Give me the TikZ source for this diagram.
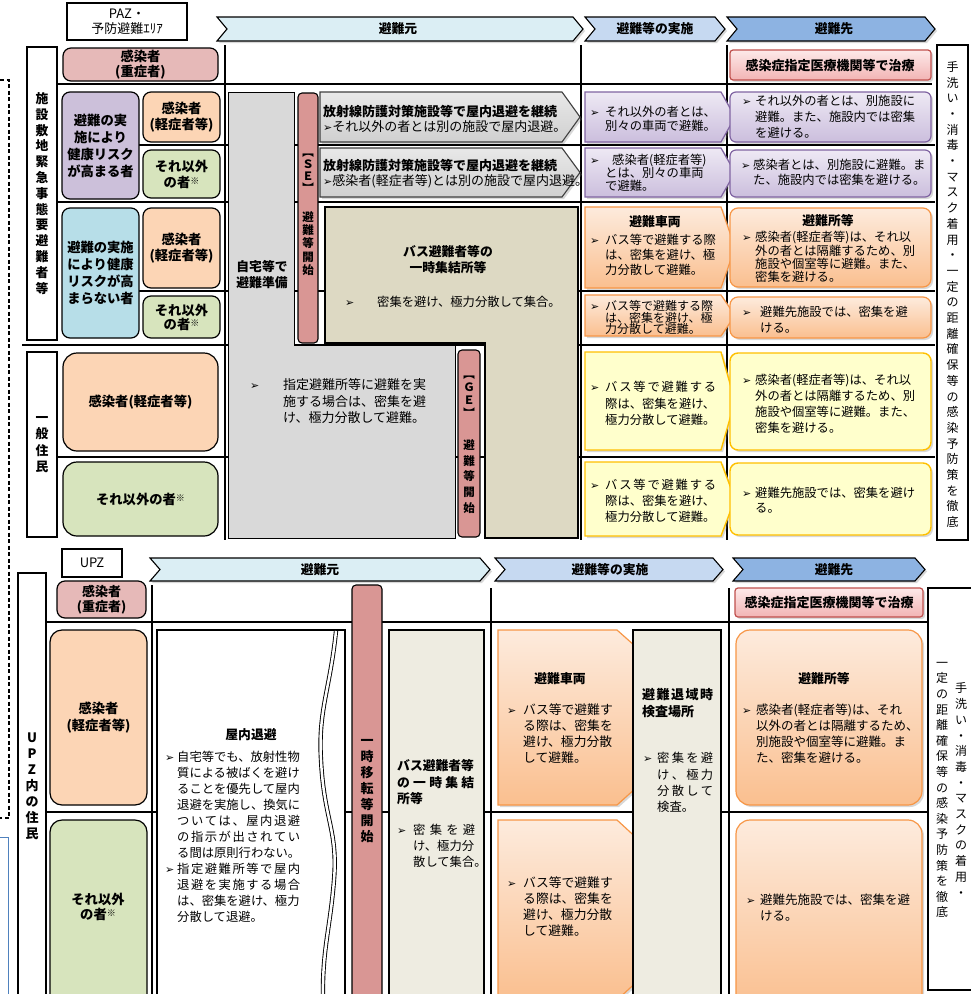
\documentclass[tikz,border=0pt]{standalone}
\usepackage{fontspec}
\setmainfont{Noto Sans CJK JP}
\newfontfamily\dejavu{DejaVu Sans}
\usetikzlibrary{shadows}

\definecolor{pinkc}{HTML}{E6B9B8}
\definecolor{orangec}{HTML}{FCD5B5}
\definecolor{greenc}{HTML}{D7E4BD}
\definecolor{purplec}{HTML}{CCC0DA}
\definecolor{bluec}{HTML}{B7DEE8}
\definecolor{grayc}{HTML}{D9D9D9}
\definecolor{beigeA}{HTML}{DDD9C3}
\definecolor{beigeB}{HTML}{EEECE1}
\definecolor{rosec}{HTML}{D99694}
\definecolor{hdrA}{HTML}{DBEEF4}
\definecolor{hdrB}{HTML}{C6D9F1}
\definecolor{hdrC}{HTML}{8DB3E2}
\definecolor{purT}{HTML}{EEE9F4}
\definecolor{purB}{HTML}{CBBEDD}
\definecolor{purD}{HTML}{8064A2}
\definecolor{orgT}{HTML}{FDEBDD}
\definecolor{orgB}{HTML}{FABF8F}
\definecolor{orgD}{HTML}{F79646}
\definecolor{yelF}{HTML}{FFFFCC}
\definecolor{yelD}{HTML}{FFC000}
\definecolor{redT}{HTML}{FDE9E9}
\definecolor{redB}{HTML}{F2B4B4}
\definecolor{redD}{HTML}{C0504D}
\definecolor{gryT}{HTML}{E8E8E8}
\definecolor{gryB}{HTML}{D0D0D0}
\definecolor{gryD}{HTML}{404040}
\definecolor{blueln}{HTML}{4F81BD}

\newcommand\fsz[2]{\fontsize{#1}{#2}\selectfont}
\protected\def\myb{\raisebox{0.3pt}{\dejavu\fontsize{11}{11}\selectfont ➢}}
\protected\def\kome{\raisebox{3pt}{\fontsize{9}{9}\selectfont ※}}
\newcommand\bl[1]{\vtop{\let\\\cr\lineskiplimit=-50pt\halign{##\hfil\cr#1\crcr}}}
\newcommand\bu[2]{\makebox[#1][l]{\myb}\bl{#2}}
\newcommand\vt[2]{\vbox{\baselineskip=#1\lineskiplimit=-50pt\relax\vtA#2\relax}}
\def\vtA#1{\ifx#1\relax\else\hbox to 14pt{\hss#1\hss}\expandafter\vtA\fi}
\protected\def\spr#1#2{\hbox to #1{\sprA#2\relax\unskip}}
\def\sprA#1{\ifx#1\relax\else#1\hfill\expandafter\sprA\fi}
\newcommand\cn[7]{\node[#1,minimum width={#4-#2},minimum height={#5-#3}] (#6) at ({(#2+#4)/2},{(#3+#5)/2}) {#7};}
\newcommand\chev[6][]{\draw[#1] (#2,#3) -- ({#4-#6},#3) -- (#4,{(#3+#5)/2}) -- ({#4-#6},#5) -- (#2,#5) -- ({#2+#6},{(#3+#5)/2}) -- cycle;}
\newcommand\pent[6][]{\draw[#1] (#2,#3) -- ({#4-#6},#3) -- (#4,{(#3+#5)/2}) -- ({#4-#6},#5) -- (#2,#5) -- cycle;}

\tikzset{
 grid/.style={line width=1.4pt, draw=black},
 cell/.style={draw=black, line width=1.2pt, rounded corners=8pt, inner sep=0pt, align=center, font=\fsz{13.3}{17}\bfseries},
 lab/.style={draw=black, line width=1.1pt, fill=white, inner sep=0pt},
 shd/.style={drop shadow={opacity=0.3,shadow xshift=2pt,shadow yshift=-2pt}},
 hdr/.style={draw=black, line width=1.1pt, shd},
 htxt/.style={inner sep=0pt, font=\fsz{12.8}{15}\bfseries},
 tx/.style={inner sep=0pt, anchor=base west},
 bt/.style={inner sep=0pt, align=center, font=\fsz{12.8}{16}\bfseries},
 vtx/.style={inner sep=0pt},
 purA/.style={top color=purT, bottom color=purB, draw=purD, line width=1.2pt, shd},
 orgA/.style={top color=orgT, bottom color=orgB, draw=orgD, line width=1.2pt, shd},
 yelA/.style={fill=yelF, draw=yelD, line width=1.4pt, shd},
 redA/.style={top color=redT, bottom color=redB, draw=redD, line width=1.2pt, shd, rounded corners=3pt},
 gryA/.style={top color=gryT, bottom color=gryB, draw=gryD, line width=1.1pt, shd},
 bar/.style={fill=rosec, draw=black, line width=1.1pt, rounded corners=4pt},
}

\begin{document}
\begin{tikzpicture}[x=1pt,y=-1pt]
\useasboundingbox (0,0) rectangle (971,994);
\fill[white] (0,0) rectangle (971,994);

% outer frames on the left
\draw[line width=1.1pt, dash pattern=on 4pt off 2.5pt] (0,80) -- (9,80) -- (9,818) -- (0,818);
\draw[blueln, line width=1pt] (0,837) -- (8,837) -- (8,1000);

% ================= PAZ =================
\node[lab, minimum width=120, minimum height=37, align=center, font=\fsz{13}{15}] (paz) at (127,21.5) {PAZ・\\予防避難ｴﾘｱ};

\chev[hdr, fill=hdrA]{217}{17}{583}{41}{10}
\chev[hdr, fill=hdrB]{585}{17}{725}{41}{10}
\chev[hdr, fill=hdrC]{727}{17}{935}{41}{10}
\node[htxt] (h1) at (398,29) {避難元};
\node[htxt] (h2) at (655,29) {避難等の実施};
\node[htxt] (h3) at (834,29) {避難先};

% grid
\draw[grid] (225,45) -- (225,540);
\draw[grid] (581,45) -- (581,540);
\draw[grid] (727,45) -- (727,540);
\draw[grid] (57,84) -- (932,84);
\draw[grid] (139,145) -- (935,145);
\draw[grid] (57,202) -- (935,202);
\draw[grid] (139,291) -- (935,291);
\draw[grid] (22,345) -- (935,345);
\draw[grid] (57,457) -- (935,457);

% left labels
\cn{lab, font=\fsz{12.8}{16}\bfseries}{27}{47}{57}{340}{labA}{\vt{15.8pt}{施設敷地緊急事態要避難者等}}
\cn{lab, font=\fsz{12.8}{16}\bfseries}{27}{352}{57}{537}{labB}{\vt{16.3pt}{一般住民}}

% left cells
\cn{cell, fill=pinkc, font=\fsz{13.3}{15}\bfseries}{63}{48}{218}{81}{c0}{感染者\\(重症者)}
\cn{cell, fill=purplec}{62}{92}{139}{199}{c1}{避難の実\\施により\\健康リスク\\が高まる者}
\cn{cell, fill=orangec, font=\fsz{13.3}{16}\bfseries}{143}{92}{220}{142}{c2}{感染者\\(軽症者等)}
\cn{cell, fill=greenc, font=\fsz{13.3}{16}\bfseries}{143}{150}{220}{198}{c3}{それ以外\\の者\kome}
\cn{cell, fill=bluec}{62}{208}{139}{338}{c4}{避難の実施\\により健康\\リスクが高\\まらない者}
\cn{cell, fill=orangec, font=\fsz{13.3}{16}\bfseries}{143}{208}{220}{288}{c5}{感染者\\(軽症者等)}
\cn{cell, fill=greenc, font=\fsz{13.3}{14}\bfseries}{143}{296}{220}{338}{c6}{それ以外\\の者\kome}
\cn{cell, fill=orangec, rounded corners=14pt}{63}{353}{218}{451}{c7}{感染者(軽症者等)}
\cn{cell, fill=greenc, rounded corners=14pt}{63}{462}{218}{536}{c8}{それ以外の者\kome}

% gray L area
\draw[fill=grayc, draw=black, line width=0.9pt] (228,92) -- (294,92) -- (294,345) -- (455,345) -- (455,538) -- (228,538) -- cycle;
\node[bt] (jitaku) at (262,275) {自宅等で\\避難準備};
\node[tx, font=\fsz{13}{16.5}] (shitei) at (250,389.7) {\bu{33pt}{指定避難所等に避難を実\\施する場合は、密集を避\\け、極力分散して避難。}};

% beige L area
\draw[fill=beigeA, draw=black, line width=1.3pt] (325,207) -- (578,207) -- (578,538) -- (485,538) -- (485,343) -- (325,343) -- cycle;
\node[bt] (bus1) at (448,260) {バス避難者等の\\一時集結所等};
\node[tx, font=\fsz{12.3}{16}] (bus1b) at (345,306.7) {\bu{32pt}{密集を避け、極力分散して集合。}};

% SE / GE bars
\cn{bar}{298}{93}{318}{343}{se}{}
\node[vtx, font=\fsz{11.5}{12}\bfseries] (set) at (308,173) {\vt{12pt}{︻ＳＥ︼}};
\node[vtx, font=\fsz{11.5}{12}\bfseries] (sea) at (308,243.5) {\vt{13.3pt}{避難等開始}};
\cn{bar}{458}{350}{480}{537}{ge}{}
\node[vtx, font=\fsz{11.5}{12}\bfseries] (get) at (469,397) {\vt{13pt}{︻ＧＥ︼}};
\node[vtx, font=\fsz{11.5}{12}\bfseries] (gea) at (469,476.5) {\vt{15.7pt}{避難等開始}};

% gray arrows
\pent[gryA]{320}{92}{580}{142}{18}
\node[tx, font=\fsz{13}{15}\bfseries] (g1a) at (323,116.7) {放射線防護対策施設等で屋内退避を継続};
\node[tx, font=\fsz{13}{15}] (g1b) at (323,131.7) {\myb それ以外の者とは別の施設で屋内退避。};
\pent[gryA]{320}{148}{580}{197}{18}
\node[tx, font=\fsz{13}{15}\bfseries] (g2a) at (323,170.7) {放射線防護対策施設等で屋内退避を継続};
\node[tx, font=\fsz{13}{15}] (g2b) at (323,185.7) {\myb 感染者(軽症者等)とは別の施設で屋内退避。};

% column: 避難等の実施
\pent[purA]{585}{92}{735}{142}{14}
\node[tx, font=\fsz{12.3}{14}] (p1) at (590,116.7) {\bu{15pt}{それ以外の者とは、\\別々の車両で避難。}};
\pent[purA]{585}{148}{735}{197}{14}
\node[tx, font=\fsz{12.3}{13}] (p2) at (590,164.7) {\bu{15pt}{\hskip7pt 感染者(軽症者等)\\とは、別々の車両\\で避難。}};
\pent[orgA]{585}{207}{735}{288}{14}
\node[bt] (o1t) at (655,222) {避難車両};
\node[tx, font=\fsz{12.3}{15}] (o1) at (590,244.7) {\bu{15pt}{バス等で避難する際\\は、密集を避け、極\\力分散して避難。}};
\pent[orgA]{585}{295}{735}{336}{14}
\node[tx, font=\fsz{12}{11.5}] (o2) at (590,310.7) {\bu{15pt}{バス等で避難する際\\は、密集を避け、極\\力分散して避難。}};
\pent[yelA]{585}{352}{735}{450}{14}
\node[tx, font=\fsz{12.3}{16.5}] (y1) at (590,391.7) {\bu{15pt}{\spr{111pt}{バス等で避難する}\\際は、密集を避け、\\極力分散して避難。}};
\pent[yelA]{585}{462}{735}{536}{14}
\node[tx, font=\fsz{12.3}{16}] (y2) at (590,489.7) {\bu{15pt}{\spr{111pt}{バス等で避難する}\\際は、密集を避け、\\極力分散して避難。}};

% column: 避難先
\cn{redA}{730}{50}{931}{80}{r1}{}
\node[htxt, font=\fsz{13}{15}\bfseries] (r1t) at (830,66) {感染症指定医療機関等で治療};
\cn{purA, rounded corners=6pt}{730}{92}{931}{142}{d1}{}
\node[tx, font=\fsz{12.3}{16}] (d1t) at (742,105.7) {\bu{13pt}{それ以外の者とは、別施設に\\避難。また、施設内では密集\\を避ける。}};
\cn{purA, rounded corners=6pt}{730}{150}{931}{197}{d2}{}
\node[tx, font=\fsz{12.3}{15}] (d2t) at (741,169.7) {\bu{12pt}{感染者とは、別施設に避難。ま\\た、施設内では密集を避ける。}};
\cn{orgA, rounded corners=8pt}{730}{208}{931}{287}{d3}{}
\node[bt] (d3h) at (828,221) {避難所等};
\node[tx, font=\fsz{12.3}{13.3}] (d3t) at (742,241.7) {\bu{13pt}{感染者(軽症者等)は、それ以\\外の者とは隔離するため、別\\施設や個室等に避難。また、\\密集を避ける。}};
\cn{orgA, rounded corners=8pt}{730}{297}{931}{338}{d4}{}
\node[tx, font=\fsz{12.3}{16}] (d4t) at (742,316.7) {\bu{18pt}{避難先施設では、密集を避\\ける。}};
\cn{yelA, rounded corners=8pt}{730}{353}{931}{450}{d5}{}
\node[tx, font=\fsz{12.3}{16}] (d5t) at (742,384.7) {\bu{13pt}{感染者(軽症者等)は、それ以\\外の者とは隔離するため、別\\施設や個室等に避難。また、\\密集を避ける。}};
\cn{yelA, rounded corners=8pt}{730}{463}{931}{535}{d6}{}
\node[tx, font=\fsz{12.3}{15}] (d6t) at (742,497.7) {\bu{13pt}{避難先施設では、密集を避け\\る。}};

% right box
\cn{lab}{937}{45}{968}{540}{prr}{}
\node[vtx, font=\fsz{12}{16}] (prrt) at (952.5,294.5) {\vt{15.7pt}{手洗い・消毒・マスク着用・一定の距離確保等の感染予防策を徹底}};

% ================= UPZ =================
\node[lab, minimum width=60, minimum height=28, font=\fsz{13}{15}] (upz) at (92,563) {UPZ};
\chev[hdr, fill=hdrA]{150}{558}{490}{581}{10}
\chev[hdr, fill=hdrB]{495}{558}{723}{581}{10}
\chev[hdr, fill=hdrC]{733}{558}{925}{581}{10}
\node[htxt] (uh1) at (320,570) {避難元};
\node[htxt] (uh2) at (610,570) {避難等の実施};
\node[htxt] (uh3) at (834,570) {避難先};

\draw[grid] (152,585) -- (152,1000);
\draw[grid] (491,588) -- (491,1000);
\draw[grid] (729,588) -- (729,1000);
\draw[grid] (46,622) -- (928,622);
\draw[grid] (46,812) -- (928,812);

\cn{lab}{18}{573}{46}{1010}{labC}{}
\node[vtx, font=\fsz{13}{16}\bfseries] (labCt) at (32,786.5) {\vt{16pt}{UPZ内の住民}};

\cn{cell, fill=pinkc, font=\fsz{13}{15}\bfseries}{57}{581}{146}{618}{u0}{感染者\\(重症者)}
\cn{cell, fill=orangec, rounded corners=12pt, font=\fsz{13.3}{17}\bfseries}{50}{630}{147}{805}{u1}{感染者\\(軽症者等)}
\cn{cell, fill=greenc, rounded corners=12pt}{50}{820}{147}{1010}{u2}{}
\node[bt, font=\fsz{13.3}{15}\bfseries] (u2t) at (98,907) {それ以外\\の者\kome};

% 屋内退避
\cn{lab, line width=1.3pt}{157}{630}{345}{1010}{okunai}{}
\draw[double=white, double distance=2.5pt, line width=0.9pt] (336,631) .. controls (330,690) and (318,710) .. (321,760) .. controls (324,820) and (338,830) .. (334,880) .. controls (330,930) and (322,950) .. (323,1000);
\node[bt] (okt) at (251,735) {屋内退避};
\node[tx, font=\fsz{12.3}{16}] (ok1) at (165,761.7) {\bu{12pt}{自宅等でも、放射性物\\質による被ばくを避け\\ることを優先して屋内\\退避を実施し、換気に\\\spr{123pt}{ついては、屋内退避}\\\spr{123pt}{の指示が出されてい}\\る間は原則行わない。}};
\node[tx, font=\fsz{12.3}{16}] (ok2) at (165,873.7) {\bu{12pt}{\spr{123pt}{指定避難所等で屋内}\\\spr{123pt}{退避を実施する場合}\\は、密集を避け、極力\\分散して退避。}};

% 一時移転等開始
\cn{bar}{352}{585}{382}{1010}{ichiji}{}
\node[vtx, font=\fsz{13}{16}\bfseries] (ichijit) at (367,791) {\vt{16pt}{一時移転等開始}};

% バス避難者等の一時集結所等
\cn{lab, fill=beigeB, line width=1.5pt}{389}{630}{484}{1010}{shuk}{}
\node[tx, font=\fsz{12.8}{16.5}\bfseries] (shukt) at (397,770.7) {\bl{バス避難者等\\\spr{77pt}{の一時集結}\\所等}};
\node[tx, font=\fsz{12.3}{16}] (shukb) at (397,834.7) {\bu{16pt}{\spr{62pt}{密集を避}\\け、極力分\\散して集合。}};

% 避難車両 arrows
\draw[orgA] (498,630) -- (617,630) -- (715,717) -- (617,805) -- (498,805) -- cycle;
\draw[orgA] (498,820) -- (617,820) -- (715,910) -- (617,1000) -- (498,1000) -- cycle;
\node[bt] (ou1t) at (560,679) {避難車両};
\node[tx, font=\fsz{12.8}{16}] (ou1) at (507,714.7) {\bu{16pt}{バス等で避難す\\る際は、密集を\\避け、極力分散\\して避難。}};
\node[tx, font=\fsz{12.8}{16}] (ou2) at (507,887.7) {\bu{16pt}{バス等で避難す\\る際は、密集を\\避け、極力分散\\して避難。}};

% 避難退域時検査場所
\cn{lab, fill=beigeB, line width=1.5pt}{633}{630}{721}{1010}{kensa}{}
\node[tx, font=\fsz{13}{16.5}\bfseries] (kensat) at (642,699.7) {\bl{\spr{71pt}{避難退域時}\\検査場所}};
\node[tx, font=\fsz{12.3}{16.3}] (kensab) at (643,762.7) {\bu{14pt}{\spr{56pt}{密集を避}\\\spr{56pt}{け、極力}\\\spr{56pt}{分散して}\\検査。}};

% 避難先 UPZ
\cn{redA}{735}{588}{923}{617}{r2}{}
\node[htxt, font=\fsz{13}{15}\bfseries] (r2t) at (829,603) {感染症指定医療機関等で治療};
\cn{orgA, rounded corners=14pt}{736}{630}{922}{805}{du1}{}
\node[bt] (du1t) at (824,679) {避難所等};
\node[tx, font=\fsz{12.5}{16}] (du1b) at (742,714.7) {\bu{14pt}{感染者(軽症者等)は、それ\\以外の者とは隔離するため、\\別施設や個室等に避難。ま\\た、密集を避ける。}};
\cn{orgA, rounded corners=14pt}{736}{820}{922}{1010}{du2}{}
\node[tx, font=\fsz{12.5}{16}] (du2b) at (746,904.7) {\bu{14pt}{避難先施設では、密集を避\\ける。}};

% right box UPZ
\cn{lab}{928}{588}{985}{990}{urr}{}
\node[vtx, font=\fsz{12}{16}] (urr1) at (961,790) {\vt{15.7pt}{手洗い・消毒・マスクの着用・}};
\node[vtx, font=\fsz{12}{16}] (urr2) at (942,790) {\vt{15.6pt}{一定の距離確保等の感染予防策を徹底}};

\end{tikzpicture}
\end{document}
